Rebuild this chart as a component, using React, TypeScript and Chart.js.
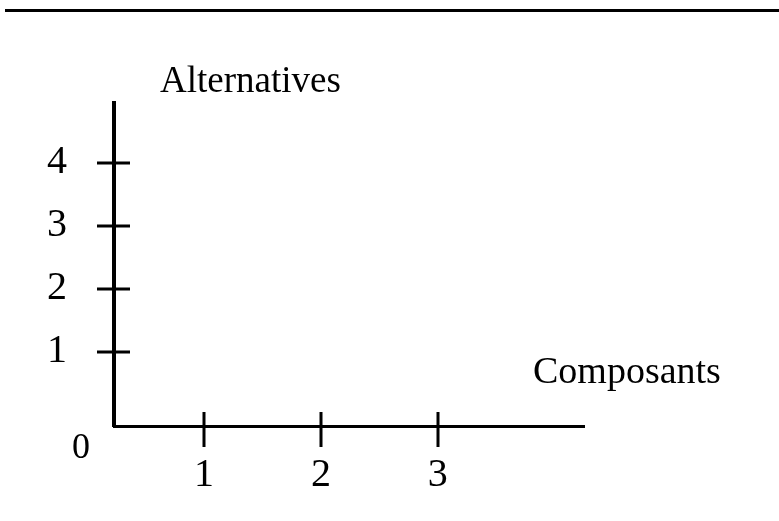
import React, { useEffect, useRef } from "react";
import { Chart, registerables } from "chart.js";

Chart.register(...registerables);

// ---- data ----
const xTickValues = [1, 2, 3];
const yTickValues = [1, 2, 3, 4];
const xAxisTitle = "Composants";
const yAxisTitle = "Alternatives";
const originLabel = "0";
const xRange = [0.23, 4.25];
const yRange = [-0.18, 4.95];

const FONT = '"Liberation Serif", "Times New Roman", serif';

const decorPlugin = {
  id: "decor",
  beforeDraw(chart: any) {
    const { ctx, width } = chart;
    ctx.save();
    ctx.fillStyle = "#fff";
    ctx.fillRect(0, 0, width, chart.height);
    ctx.fillStyle = "#000";
    ctx.fillRect(5, 9, width - 5, 3);
    ctx.restore();
  },
  afterDraw(chart: any) {
    const { ctx, chartArea, scales } = chart;
    const xs = scales.x;
    const ys = scales.y;
    ctx.save();
    ctx.fillStyle = "#000";
    // tick crosses
    xs.ticks.forEach((t: any) => {
      const px = Math.round(xs.getPixelForValue(t.value));
      ctx.fillRect(px - 1.5, chartArea.bottom - 14, 3, 35);
    });
    ys.ticks.forEach((t: any) => {
      const py = Math.round(ys.getPixelForValue(t.value));
      ctx.fillRect(chartArea.left - 17, py - 1.5, 33, 3);
    });
    // texts
    ctx.textBaseline = "middle";
    ctx.textAlign = "left";
    ctx.font = `37px ${FONT}`;
    ctx.fillText(yAxisTitle, chartArea.left + 46, chartArea.top - 21);
    ctx.font = `38px ${FONT}`;
    ctx.fillText(xAxisTitle, chartArea.right - 51, chartArea.bottom - 53);
    ctx.textAlign = "center";
    ctx.font = `36px ${FONT}`;
    ctx.fillText(originLabel, chartArea.left - 33, chartArea.bottom + 23);
    ctx.restore();
  },
};

export default function App() {
  const ref = useRef<HTMLCanvasElement | null>(null);

  useEffect(() => {
    if (!ref.current) return;
    const chart = new Chart(ref.current, {
      type: "scatter",
      data: { datasets: [] },
      options: {
        animation: false,
        responsive: false,
        layout: { padding: { left: 0, top: 103, right: 195, bottom: 0 } },
        plugins: {
          legend: { display: false },
          title: { display: false },
          tooltip: { enabled: false },
        },
        scales: {
          x: {
            type: "linear",
            min: xRange[0],
            max: xRange[1],
            afterBuildTicks: (s: any) => {
              s.ticks = xTickValues.map((v) => ({ value: v }));
            },
            afterFit: (s: any) => {
              s.height = 95;
            },
            grid: { display: false, drawTicks: false },
            border: { display: true, color: "#000", width: 3 },
            ticks: {
              color: "#000",
              padding: 25,
              font: { family: FONT, size: 40 },
              autoSkip: false,
              maxRotation: 0,
            },
          },
          y: {
            type: "linear",
            min: yRange[0],
            max: yRange[1],
            afterBuildTicks: (s: any) => {
              s.ticks = yTickValues.map((v) => ({ value: v }));
            },
            afterFit: (s: any) => {
              s.width = 114;
            },
            grid: { display: false, drawTicks: false },
            border: { display: true, color: "#000", width: 4 },
            ticks: {
              color: "#000",
              padding: 47,
              font: { family: FONT, size: 40 },
              autoSkip: false,
            },
          },
        },
      },
      plugins: [decorPlugin],
    } as any);
    return () => chart.destroy();
  }, []);

  return (
    <div style={{ position: "fixed", left: 0, top: 0, width: 779, height: 521, background: "#fff" }}>
      <canvas ref={ref} width={779} height={521} style={{ display: "block" }} />
    </div>
  );
}
